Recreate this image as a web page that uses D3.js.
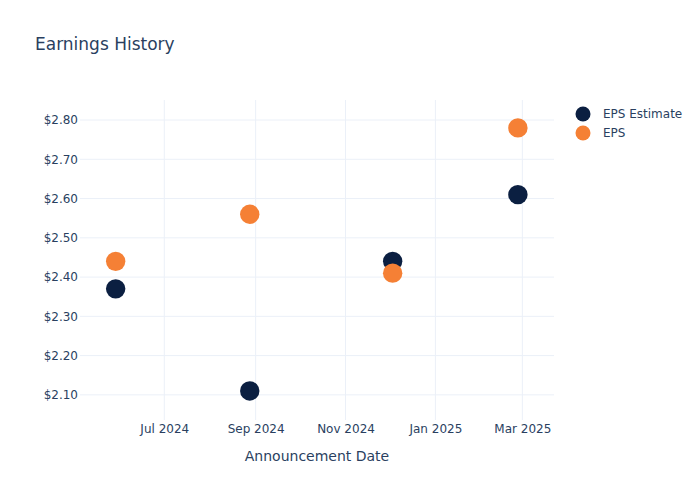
<!DOCTYPE html>
<html>
<head>
<meta charset="utf-8">
<script src="https://cdn.jsdelivr.net/npm/d3@7.9.0/dist/d3.min.js"></script>
<style>
  body { margin: 0; background: #fff; }
  svg text { font-family: "DejaVu Sans", Verdana, sans-serif; fill: #2a3f5f; }
</style>
</head>
<body>
<div id="chart"></div>
<script>
// announcement dates and values
const dates = ["2024-05-29", "2024-08-28", "2024-12-03", "2025-02-26"];
const epsEstimate = [2.37, 2.11, 2.44, 2.61];
const epsActual = [2.44, 2.56, 2.41, 2.78];
const yTicks = [2.1, 2.2, 2.3, 2.4, 2.5, 2.6, 2.7, 2.8];
const xTicks = ["2024-07-01", "2024-09-01", "2024-11-01", "2025-01-01", "2025-03-01"];
const seriesNames = ["EPS Estimate", "EPS"];
const seriesColors = ["#0b1f41", "#f58035"];

const width = 700;
const height = 500;
const margin = { top: 100, right: 146, bottom: 80, left: 80 };

const parse = d3.utcParse("%Y-%m-%d");

const svg = d3.select("#chart")
  .append("svg")
  .attr("width", width)
  .attr("height", height);

const xScale = d3.scaleUtc()
  .domain([new Date(Date.UTC(2024, 4, 4, 19)), new Date(Date.UTC(2025, 2, 22, 12))])
  .range([margin.left, width - margin.right]);

const yScale = d3.scaleLinear()
  .domain([2.036, 2.851])
  .range([height - margin.bottom, margin.top]);

// gridlines
const grid = svg.append("g").attr("stroke", "#ebf0f8").attr("stroke-width", 1);
grid.selectAll("line.h")
  .data(yTicks)
  .join("line")
  .attr("x1", margin.left)
  .attr("x2", width - margin.right)
  .attr("y1", d => yScale(d))
  .attr("y2", d => yScale(d));
grid.selectAll("line.v")
  .data(xTicks.map(parse))
  .join("line")
  .attr("x1", d => xScale(d))
  .attr("x2", d => xScale(d))
  .attr("y1", margin.top)
  .attr("y2", height - margin.bottom);

// axes
const yAxis = svg.append("g")
  .attr("transform", `translate(${margin.left - 2},0)`)
  .call(d3.axisLeft(yScale)
    .tickValues(yTicks)
    .tickSize(0)
    .tickPadding(0)
    .tickFormat(d => "$" + d.toFixed(2)));
yAxis.select(".domain").remove();
yAxis.selectAll("text").style("font-size", "12px").attr("fill", "#2a3f5f");

const xAxis = svg.append("g")
  .attr("transform", `translate(0,${height - margin.bottom})`)
  .call(d3.axisBottom(xScale)
    .tickValues(xTicks.map(parse))
    .tickSize(0)
    .tickPadding(4)
    .tickFormat(d3.utcFormat("%b %Y")));
xAxis.select(".domain").remove();
xAxis.selectAll("text").style("font-size", "12px").attr("fill", "#2a3f5f");

// titles
svg.append("text")
  .attr("x", 35)
  .attr("y", 50)
  .style("font-size", "17px")
  .text("Earnings History");

svg.append("text")
  .attr("x", (margin.left + width - margin.right) / 2)
  .attr("y", 461)
  .attr("text-anchor", "middle")
  .style("font-size", "14px")
  .text("Announcement Date");

// points
const series = [epsEstimate, epsActual];
series.forEach((values, i) => {
  svg.append("g")
    .selectAll("circle")
    .data(values.map((v, j) => ({ date: parse(dates[j]), value: v })))
    .join("circle")
    .attr("cx", d => xScale(d.date))
    .attr("cy", d => yScale(d.value))
    .attr("r", 9.7)
    .attr("fill", seriesColors[i]);
});

// legend
const legend = svg.append("g").attr("transform", "translate(583,114)");
const items = legend.selectAll("g")
  .data(seriesNames)
  .join("g")
  .attr("transform", (d, i) => `translate(0,${i * 19})`);
items.append("circle")
  .attr("r", 7.5)
  .attr("fill", (d, i) => seriesColors[i]);
items.append("text")
  .attr("x", 20)
  .attr("dy", "0.35em")
  .style("font-size", "12px")
  .text(d => d);
</script>
</body>
</html>
